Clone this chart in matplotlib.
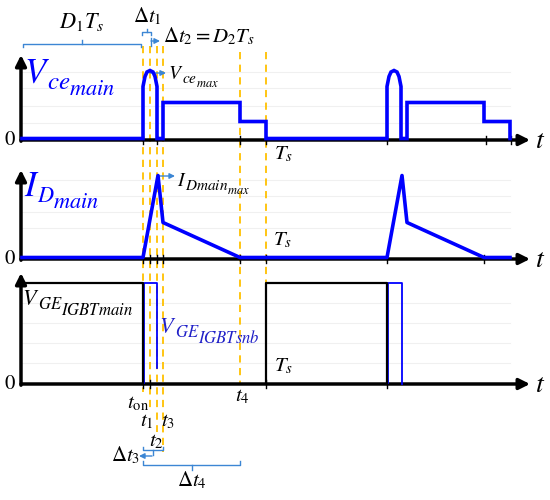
import matplotlib
matplotlib.use("Agg")
import matplotlib.pyplot as plt

plt.rcParams['mathtext.fontset'] = 'stix'
plt.rcParams['font.family'] = ['STIXGeneral', 'DejaVu Serif']

# switching instants (x position within the sketch, px)
t_on, t1, t2, t3, t4, Ts = 143, 150, 157, 163, 240, 266
period_starts = [143, 387]

# Vce_main shape (offset from t_on, height above baseline)
vce_dt = [0, 0, 2, 4, 7, 10, 12, 14, 14, 20, 20, 97, 97, 123, 123]
vce_h = [0, 52, 62, 66.5, 68, 66.5, 62, 52, 0, 0, 36, 36, 17, 17, 0]

# I_D_main shape (offset from t_on, height above baseline)
id_dt = [0, 15, 20, 97]
id_h = [0, 82, 35, 0]

# snubber gate pulses: width and how far the falling edge reaches
snb_width = [14, 15]
snb_drop = [16, 0]

# panels: baseline y, axis top y
base = [140, 259, 384]
top = [55, 170, 273]
ge_high = 283

ticks = [[143, 157, 240, 266, 387, 486, 511],
         [143, 150, 157, 163, 240, 266, 387, 484],
         [143, 150, 266, 387]]
grid_y = [[72, 88, 106, 123], [180, 196, 212, 228], [303, 323, 343, 363]]

blue = '#0000ff'
lblue = '#3c86d4'
yellow = '#ffc000'

fig = plt.figure(figsize=(5.5, 5.0), dpi=100)
ax = fig.add_axes([0, 0, 1, 1])
ax.set_xlim(0, 550)
ax.set_ylim(500, 0)
ax.axis('off')
renderer = fig.canvas.get_renderer()

# faint grid
for gy in grid_y:
    for y in gy:
        ax.plot([22, 510], [y, y], color='#f0f0f0', lw=0.8, zorder=0)

# axes with arrows
for b, tp in zip(base, top):
    ax.annotate('', xy=(530, b), xytext=(21, b),
                arrowprops=dict(arrowstyle='-|>', lw=2.5, color='k',
                                mutation_scale=16, shrinkA=0, shrinkB=0), zorder=3)
    ax.annotate('', xy=(21, tp), xytext=(21, b + 1.2),
                arrowprops=dict(arrowstyle='-|>', lw=2.5, color='k',
                                mutation_scale=16, shrinkA=0, shrinkB=0), zorder=3)
    ax.text(10, b, '0', fontsize=15, ha='center', va='center')
    ax.text(540, b + 1, '$t$', fontsize=20, ha='center', va='center')

for b, tk in zip(base, ticks):
    for x in tk:
        ax.plot([x, x], [b - 4, b + 4], color='k', lw=1, zorder=3)

# yellow dashed guide lines
guides = [(t_on, 46, 392), (t1, 46, 410), (t2, 46, 432), (t3, 46, 452),
          (t4, 52, 384), (Ts, 52, 384)]
for x, y0, y1 in guides:
    ax.plot([x, x], [y0, y1], color=yellow, lw=1.3, dashes=(4, 3), zorder=2)

# Vce_main
xs, ys = [22], [base[0] - 1.5]
for s in period_starts:
    xs += [s + d for d in vce_dt]
    ys += [base[0] - 1.5 - h for h in vce_h]
ax.plot(xs, ys, color=blue, lw=2.6, zorder=4, solid_joinstyle='miter')

# I_D_main
xs, ys = [22], [base[1] - 1.5]
for s in period_starts:
    xs += [s + d for d in id_dt]
    ys += [base[1] - 1.5 - h for h in id_h]
xs.append(510)
ys.append(base[1] - 1.5)
ax.plot(xs, ys, color=blue, lw=2.6, zorder=4)

# gate signals
b3 = base[2]
ax.plot([22, t_on, t_on], [ge_high, ge_high, b3], color='k', lw=1.6, zorder=5)
ax.plot([Ts, Ts, period_starts[1], period_starts[1]], [b3, ge_high, ge_high, b3],
        color='k', lw=1.6, zorder=5)
for s, w, d in zip(period_starts, snb_width, snb_drop):
    ax.plot([s + 1, s + 1, s + w, s + w], [b3 - 1, ge_high, ge_high, b3 - d],
            color=blue, lw=1.3, zorder=4)


def bracket(x0, x1, y, hook, tip):
    xm = (x0 + x1) / 2
    ax.plot([x0, x0, x1, x1], [y + hook, y, y, y + hook], color=lblue, lw=1)
    ax.plot([xm, xm], [y, y + tip], color=lblue, lw=1)


def small_arrow(x0, x1, y):
    ax.annotate('', xy=(x1, y), xytext=(x0, y),
                arrowprops=dict(arrowstyle='-|>', lw=1, color=lblue,
                                mutation_scale=8, shrinkA=0, shrinkB=0))


def stacked(x, y, parts, color='k'):
    # base symbol followed by subscripts that each sit a bit lower
    for s, fs, dy in parts:
        t = ax.text(x, y + dy, s, fontsize=fs, color=color, ha='left',
                    va='baseline')
        x += t.get_window_extent(renderer).width - 0.1 * fs


bracket(23, 141, 44, 3, -4)
bracket(142, 151, 32, 3, -3)
ax.plot([151, 151], [38, 46], color=lblue, lw=1)
small_arrow(151, 160, 41)
small_arrow(150, 166, 73)
small_arrow(158, 175, 176)
bracket(143, 163, 450, -3, 5)
small_arrow(152, 139, 456)
bracket(143, 240, 465, -4, 5)

# labels
ax.text(82, 22, '$D_1T_s$', fontsize=16, ha='center', va='center')
ax.text(147, 16, r'$\Delta t_1$', fontsize=15, ha='center', va='center')
ax.text(163, 36, r'$\Delta t_2 = D_2T_s$', fontsize=15, ha='left', va='center')

stacked(168, 79, [('$V$', 14, 0), ('$ce$', 11, 4), ('$max$', 9, 8)])
stacked(177, 186, [('$I$', 14, 0), ('$Dmain$', 11, 4), ('$max$', 9, 8)])
stacked(24, 83, [('$V$', 25, 0), ('$ce$', 18, 6), ('$main$', 16, 12)], blue)
stacked(24, 196, [('$I$', 25, 0), ('$D$', 16, 6), ('$main$', 16, 12)], blue)
stacked(22, 305, [('$V$', 16, 0), ('$GE$', 12, 4), ('$IGBTmain$', 12, 10)])
stacked(159, 333, [('$V$', 16, 0), ('$GE$', 12, 4), ('$IGBTsnb$', 12, 10)],
        '#2020c8')

ax.text(283, 154, '$T_s$', fontsize=15, ha='center', va='center')
ax.text(282, 240, '$T_s$', fontsize=15, ha='center', va='center')
ax.text(283, 366, '$T_s$', fontsize=15, ha='center', va='center')

ax.text(138, 403, r'$t_{\rm on}$', fontsize=15, ha='center', va='center')
ax.text(147, 421, '$t_1$', fontsize=15, ha='center', va='center')
ax.text(168, 421, '$t_3$', fontsize=15, ha='center', va='center')
ax.text(156, 441, '$t_2$', fontsize=15, ha='center', va='center')
ax.text(242, 396, '$t_4$', fontsize=15, ha='center', va='center')
ax.text(126, 455, r'$\Delta t_3$', fontsize=15, ha='center', va='center')
ax.text(192, 480, r'$\Delta t_4$', fontsize=15, ha='center', va='center')

fig.savefig('out.png', dpi=100)
